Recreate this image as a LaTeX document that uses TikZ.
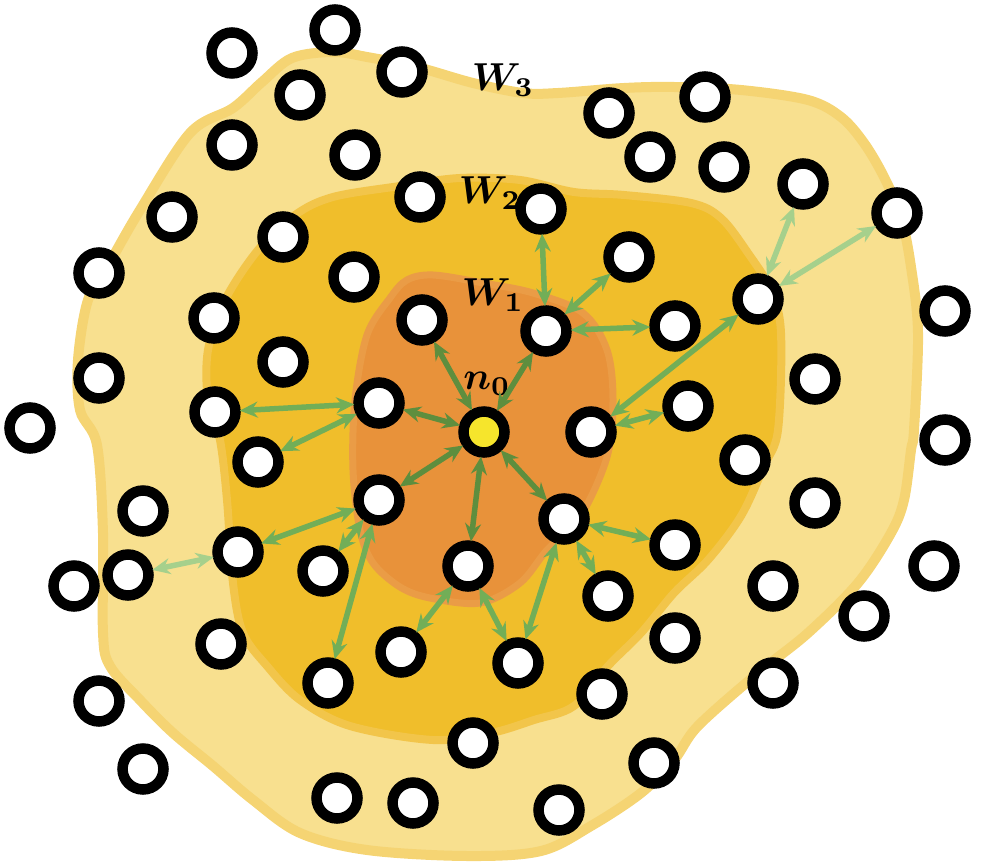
\documentclass[tikz,border=0pt]{standalone}
\usepackage{bm}
\usetikzlibrary{arrows.meta}
\definecolor{outerF}{HTML}{F8E08F}
\definecolor{outerD}{HTML}{F5D473}
\definecolor{midF}{HTML}{F0BE2B}
\definecolor{midD}{HTML}{F2C54A}
\definecolor{innF}{HTML}{E8923A}
\definecolor{innD}{HTML}{EA9C46}
\definecolor{arrD}{HTML}{5E8E3E}
\definecolor{arrM}{HTML}{72AE57}
\definecolor{arrL}{HTML}{A6D08C}
\definecolor{centre}{HTML}{F6E52C}
\newcommand{\biglab}[1]{\scalebox{3.9}{$\bm{#1}$}}
\tikzset{
  ring/.style={circle, draw=black, line width=10.5pt, fill=white, minimum size=41pt, inner sep=0pt},
  lnk/.style={<->, >={Stealth[length=18pt,width=16pt,inset=6pt]}, line width=5.5pt, shorten <=-1pt, shorten >=-1pt},
  dlink/.style={lnk, draw=arrD},
  mlink/.style={lnk, draw=arrM},
  llink/.style={lnk, draw=arrL},
  lab/.style={inner sep=0pt}
}
\begin{document}
\begin{tikzpicture}[x=1pt,y=-1pt]
\path[use as bounding box] (0,0) rectangle (982,866);
% W3 region
\draw[fill=outerF, draw=outerD, line width=10pt] plot[smooth cycle, tension=0.55] coordinates {
 (292,58) (333,52) (367,57) (417,67) (473,83) (523,93) (558,93) (624,88) (674,87) (741,90) (808,100)
 (841,117) (864,143) (884,177) (901,217) (911,267) (918,333) (914,430) (911,450) (904,500) (891,533)
 (858,583) (808,633) (758,673) (698,726) (674,760) (641,793) (591,826) (541,851) (467,856) (367,850)
 (300,833) (253,800) (213,766) (173,733) (140,700) (110,666) (103,633) (103,533) (97,445) (80,410)
 (78,360) (88,300) (110,262) (140,210) (190,133) (233,108) (262,82)};
% W2 region
\draw[fill=midF, draw=midD, line width=8pt] plot[smooth cycle, tension=0.55] coordinates {
 (333,197) (400,186) (460,178) (520,180) (574,192) (624,195) (691,203) (721,218) (748,253) (771,290)
 (781,333) (778,430) (764,466) (741,516) (708,560) (674,593) (641,633) (608,666) (574,706) (534,720)
 (491,733) (433,740) (350,726) (300,700) (267,666) (243,633) (233,583) (227,500) (220,440) (208,400)
 (208,350) (225,300) (258,250) (295,215)};
% W1 region
\draw[fill=innF, draw=innD, line width=7pt] plot[smooth cycle, tension=0.55] coordinates {
 (407,280) (433,275) (483,283) (533,293) (583,313) (607,350) (613,400) (607,457) (580,517) (547,550)
 (520,583) (480,603) (430,598) (400,587) (373,563) (360,530) (353,470) (355,400) (367,335) (390,298)};
% labels
\node[lab] (lw3) at (503,80) {\biglab{W_3}};
\node[lab] (lw2) at (490,193) {\biglab{W_2}};
\node[lab] (lw1) at (493,295) {\biglab{W_1}};
\node[lab] (ln0) at (487,384) {\biglab{n_0}};
% nodes
\foreach \i/\x/\y in {1/335/30, 2/232/53, 3/402/72, 4/300/95, 5/609/113, 6/705/97, 7/232/145, 8/355/155,
 9/650/157, 10/724/167, 11/420/197, 12/541/209, 13/803/184, 14/897/213, 15/172/217, 16/283/237,
 17/629/257, 18/99/273, 19/354/277, 20/758/299, 21/422/320, 22/546/331, 23/675/326, 24/214/318,
 25/945/311, 26/283/362, 27/99/378, 28/815/379, 29/379/403, 30/215/412, 31/591/432, 32/688/406,
 33/30/428, 34/945/440, 35/258/462, 36/745/460, 37/379/500, 38/564/519, 39/143/511, 40/815/503,
 41/238/552, 42/128/575, 43/74/586, 44/323/571, 45/468/566, 46/675/545, 47/934/566, 48/608/596,
 49/773/586, 50/864/616, 51/221/644, 52/401/652, 53/518/663, 54/675/638, 55/328/683, 56/99/701,
 57/602/694, 58/773/683, 59/473/743, 60/143/769, 61/654/763, 62/337/798, 63/413/803, 64/559/810}
  \node[ring] (v\i) at (\x,\y) {};
\node[ring, fill=centre] (n0) at (484,432) {};
% links from n0
\foreach \t in {21,22,29,37,45,38}
  \draw[dlink] (n0) -- (v\t);
% second tier
\foreach \s/\t in {22/12, 22/17, 22/23, 31/20, 31/32, 29/30, 29/35, 37/41, 37/44, 37/55,
  45/52, 45/53, 38/53, 38/48, 38/46}
  \draw[mlink] (v\s) -- (v\t);
% third tier
\foreach \s/\t in {20/13, 20/14, 41/42}
  \draw[llink] (v\s) -- (v\t);
\end{tikzpicture}
\end{document}
